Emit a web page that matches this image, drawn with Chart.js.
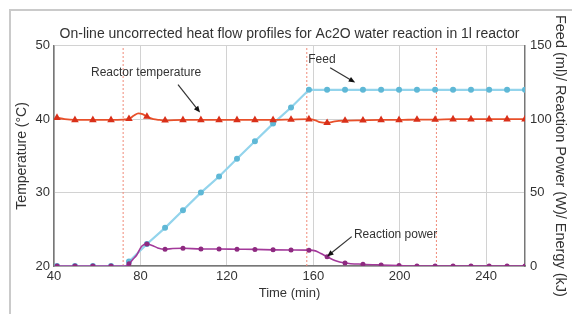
<!DOCTYPE html>
<html>
<head>
<meta charset="utf-8">
<script src="https://cdn.jsdelivr.net/npm/chart.js@4/dist/chart.umd.min.js"></script>
<style>
    html, body { margin: 0; padding: 0; background: #fff; }
    #wrap { position: relative; width: 572px; height: 314px; }
    #frame {
        position: absolute; left: 9px; top: 9px; right: 0; bottom: 0;
        border-top: 2px solid #cacaca; border-left: 2px solid #cacaca;
        pointer-events: none;
    }
</style>
</head>
<body>
<div id="wrap">
    <canvas id="heatChart" width="572" height="314"></canvas>
    <div id="frame"></div>
</div>
<script>
// times (min) where the markers sit on the curves
const sampleTimes = [41.4, 49.7, 58, 66.4, 74.7, 83, 91.4, 99.7, 108, 116.4, 124.7, 133, 141.4,
    149.7, 158, 166.4, 174.7, 183, 191.4, 199.7, 208, 216.4, 224.7, 233, 241.4, 249.7, 258];

// reactor temperature (°C), left axis
const tempTime = [41.4, 45, 49.7, 58, 66.4, 72, 74.7, 77, 79, 81, 83, 86, 89, 91.4, 99.7, 108,
    116.4, 124.7, 133, 141.4, 149.7, 158, 161, 163, 166.4, 170, 174.7, 183, 191.4, 199.7, 208,
    216.4, 224.7, 233, 241.4, 249.7, 258];
const tempValues = [40.2, 40.0, 39.9, 39.9, 39.9, 39.95, 40.05, 40.5, 40.8, 40.7, 40.35, 40.0,
    39.9, 39.85, 39.9, 39.9, 39.9, 39.9, 39.9, 39.9, 39.95, 40.0, 39.85, 39.6, 39.5, 39.7, 39.8,
    39.85, 39.9, 39.9, 39.95, 39.95, 40.0, 40.0, 40.0, 40.0, 40.0];

// feed (ml), right axis
const feedTime = [41.4, 49.7, 58, 66.4, 73.5, 74.7, 83, 91.4, 99.7, 108, 116.4, 124.7, 133, 141.4,
    149.7, 158, 166.4, 174.7, 183, 191.4, 199.7, 208, 216.4, 224.7, 233, 241.4, 249.7, 258];
const feedValues = [0, 0, 0, 0, 0, 3, 15, 26, 38, 50, 61, 73, 85, 97, 108, 120, 120, 120, 120,
    120, 120, 120, 120, 120, 120, 120, 120, 120];

// reaction power (W), right axis
const powerTime = [41.4, 49.7, 58, 66.4, 73, 74.7, 76.5, 78.3, 80.6, 83, 85.5, 88, 91.4, 95, 99.7,
    108, 116.4, 124.7, 133, 141.4, 149.7, 158, 161, 163.5, 166.4, 170, 174.7, 183, 191.4, 199.7,
    208, 216.4, 224.7, 233, 241.4, 249.7, 258];
const powerValues = [0, 0, 0, 0, 0, 1.5, 4.5, 7.5, 13.5, 15, 14, 12.3, 11.4, 11.9, 12.1, 11.6,
    11.6, 11.4, 11.3, 11.0, 10.9, 10.8, 10.3, 8.5, 6.3, 3.8, 2.1, 1.2, 0.7, 0.3, 0, 0, 0, 0, 0, 0, 0];

// dosing start / end and end of run markers (min)
const eventTimes = [72, 157, 217];

const xTicks = [40, 80, 120, 160, 200, 240];
const tempTicks = [20, 30, 40, 50];
const rightTicks = [0, 50, 100, 150];

function pts(times, values) {
    return times.map((t, i) => ({ x: t, y: values[i] }));
}

function markerRadius(r) {
    return ctx => (ctx.raw && sampleTimes.includes(ctx.raw.x)) ? r : 0;
}

const notes = [
    { text: "Reactor temperature", tx: 82.6, ty: 46.35, from: [97.4, 44.7], to: [107.6, 40.9] },
    { text: "Feed", tx: 164, ty: 48.1, from: [167.8, 47.0], to: [179.4, 45.0] },
    { text: "Reaction power", tx: 198.1, ty: 24.2, from: [177.8, 24.0], to: [166.4, 21.3] }
];

const notesPlugin = {
    id: "notes",
    afterDatasetsDraw(chart) {
        const ctx = chart.ctx;
        const x = chart.scales.x, y = chart.scales.y;
        ctx.save();
        ctx.font = "12px 'Liberation Sans', Arial, sans-serif";
        ctx.textAlign = "center";
        ctx.textBaseline = "middle";
        notes.forEach(n => {
            ctx.fillStyle = "#333";
            ctx.fillText(n.text, x.getPixelForValue(n.tx), y.getPixelForValue(n.ty));
            const x0 = x.getPixelForValue(n.from[0]), y0 = y.getPixelForValue(n.from[1]);
            const x1 = x.getPixelForValue(n.to[0]), y1 = y.getPixelForValue(n.to[1]);
            const a = Math.atan2(y1 - y0, x1 - x0);
            ctx.strokeStyle = "#333";
            ctx.lineWidth = 1.2;
            ctx.beginPath();
            ctx.moveTo(x0, y0);
            ctx.lineTo(x1 - 5 * Math.cos(a), y1 - 5 * Math.sin(a));
            ctx.stroke();
            ctx.fillStyle = "#111";
            ctx.beginPath();
            ctx.moveTo(x1, y1);
            ctx.lineTo(x1 - 7 * Math.cos(a - 0.4), y1 - 7 * Math.sin(a - 0.4));
            ctx.lineTo(x1 - 7 * Math.cos(a + 0.4), y1 - 7 * Math.sin(a + 0.4));
            ctx.closePath();
            ctx.fill();
        });
        ctx.restore();
    }
};

Chart.defaults.font.family = "'Liberation Sans', Arial, sans-serif";
Chart.defaults.color = "#333";

const eventSets = eventTimes.map(t => ({
    data: [{ x: t, y: 20 }, { x: t, y: 50 }],
    yAxisID: "y",
    borderColor: "#f08a78",
    borderWidth: 1,
    borderDash: [2, 2],
    pointRadius: 0,
    order: 10
}));

new Chart(document.getElementById("heatChart"), {
    type: "line",
    data: {
        datasets: [
            {
                label: "Reactor temperature",
                data: pts(tempTime, tempValues),
                yAxisID: "y",
                borderColor: "#e8502a",
                borderWidth: 1.8,
                cubicInterpolationMode: "monotone",
                pointStyle: "triangle",
                pointRadius: markerRadius(2.6),
                pointBackgroundColor: "#d9301a",
                pointBorderColor: "#d9301a",
                order: 1
            },
            {
                label: "Reaction power",
                data: pts(powerTime, powerValues),
                yAxisID: "y1",
                borderColor: "#a3399a",
                borderWidth: 1.6,
                cubicInterpolationMode: "monotone",
                pointRadius: markerRadius(1.7),
                pointBackgroundColor: "#8e2a80",
                pointBorderColor: "#8e2a80",
                order: 2
            },
            {
                label: "Feed",
                data: pts(feedTime, feedValues),
                yAxisID: "y1",
                borderColor: "#93d4ec",
                borderWidth: 2.2,
                pointRadius: markerRadius(1.9),
                pointBackgroundColor: "#5fb8d6",
                pointBorderColor: "#5fb8d6",
                order: 3
            },
            ...eventSets
        ]
    },
    options: {
        responsive: false,
        animation: false,
        layout: { padding: 0 },
        plugins: {
            legend: { display: false },
            tooltip: { enabled: false },
            title: {
                display: true,
                fullSize: false,
                text: "On-line uncorrected heat flow profiles for Ac2O water reaction in 1l reactor",
                font: { size: 14, weight: "normal" },
                color: "#333",
                padding: { top: 26, bottom: 3 }
            }
        },
        scales: {
            x: {
                type: "linear",
                min: 40,
                max: 258,
                afterFit(s) { s.height = 48; },
                afterBuildTicks(s) { s.ticks = xTicks.map(v => ({ value: v })); },
                ticks: { font: { size: 13 }, color: "#333", padding: 3 },
                grid: { color: "#d2d2d2", drawTicks: false },
                border: { color: "#777", width: 1.5 },
                title: {
                    display: true,
                    text: "Time (min)",
                    font: { size: 13 },
                    color: "#333",
                    padding: { top: 0, bottom: 13 }
                }
            },
            y: {
                position: "left",
                min: 20,
                max: 50,
                afterFit(s) { s.width = 54; },
                afterBuildTicks(s) { s.ticks = tempTicks.map(v => ({ value: v })); },
                ticks: { font: { size: 13 }, color: "#333", padding: 4 },
                grid: { color: "#d2d2d2", drawTicks: false },
                border: { color: "#777", width: 1.5 },
                title: {
                    display: true,
                    text: "Temperature (°C)",
                    font: { size: 14 },
                    color: "#333",
                    padding: { top: 14, bottom: 0 }
                }
            },
            y1: {
                position: "right",
                min: 0,
                max: 150,
                afterFit(s) { s.width = 47; },
                afterBuildTicks(s) { s.ticks = rightTicks.map(v => ({ value: v })); },
                ticks: { font: { size: 13 }, color: "#333", padding: 5 },
                grid: { display: false, drawTicks: false },
                border: { color: "#777", width: 1.5 },
                title: {
                    display: true,
                    text: "Feed (ml)/ Reaction Power (W)/ Energy (kJ)",
                    font: { size: 14.5 },
                    color: "#333",
                    padding: { top: 3, bottom: 0 }
                }
            }
        }
    },
    plugins: [notesPlugin]
});
</script>
</body>
</html>
